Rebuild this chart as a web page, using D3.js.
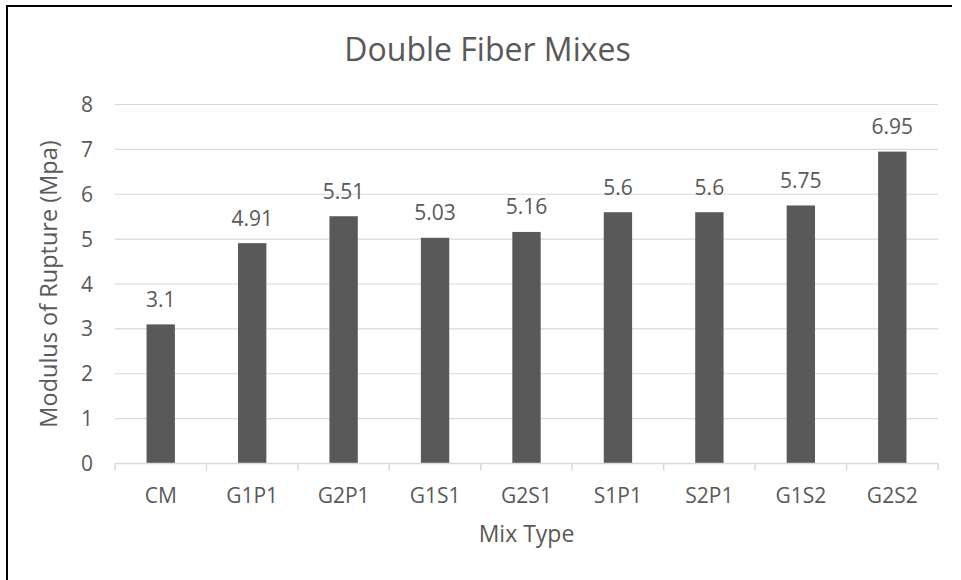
<!DOCTYPE html>
<html><head><meta charset="utf-8">
<script src="https://cdn.jsdelivr.net/npm/d3@7"></script>
<style>
body{margin:0;background:#fff;}
text{font-family:"Open Sans",sans-serif;fill:#595959;}
</style></head>
<body>
<svg id="c" width="961" height="580"></svg>
<script>
const categories = ["CM","G1P1","G2P1","G1S1","G2S1","S1P1","S2P1","G1S2","G2S2"];
const values = [3.1,4.91,5.51,5.03,5.16,5.6,5.6,5.75,6.95];
const valueLabels = ["3.1","4.91","5.51","5.03","5.16","5.6","5.6","5.75","6.95"];
const yTicks = [0,1,2,3,4,5,6,7,8];
const chartTitle = "Double Fiber Mixes";
const xTitle = "Mix Type";
const yTitle = "Modulus of Rupture (Mpa)";

(function(){
const svg = d3.select("#c");
const pl = 115, pr = 938, pt = 104.5, pb = 463.5;

// frame (top and left edges only visible)
svg.append("line").attr("x1",6).attr("x2",952).attr("y1",6).attr("y2",6).attr("stroke","#000").attr("stroke-width",2);
svg.append("line").attr("x1",7).attr("x2",7).attr("y1",5).attr("y2",580).attr("stroke","#000").attr("stroke-width",2);

const x = d3.scaleBand().domain(categories).range([pl,pr]).paddingInner(0.69).paddingOuter(0.345);
const xb = d3.scaleBand().domain(categories).range([pl,pr]);
const y = d3.scaleLinear().domain([0,8]).range([pb,pt]);

// gridlines
svg.append("g").selectAll("line").data(yTicks.filter(d=>d>0)).join("line")
  .attr("x1",pl).attr("x2",pr).attr("y1",d=>y(d)).attr("y2",d=>y(d))
  .attr("stroke","#d9d9d9").attr("stroke-width",1.2);

// y tick labels
svg.append("g").selectAll("text").data(yTicks).join("text")
  .attr("x",93).attr("y",d=>y(d)).attr("dy","0.36em").attr("text-anchor","end")
  .attr("font-size",21).text(d=>d);

// bars
svg.append("g").selectAll("rect").data(values).join("rect")
  .attr("x",(d,i)=>x(categories[i])).attr("width",x.bandwidth())
  .attr("y",d=>y(d)).attr("height",d=>pb-y(d)).attr("fill","#595959");

// x axis line + ticks
svg.append("line").attr("x1",pl).attr("x2",pr).attr("y1",pb).attr("y2",pb).attr("stroke","#d9d9d9").attr("stroke-width",1.5);
const tickPos = categories.map(c=>xb(c)).concat([pr]);
svg.append("g").selectAll("line").data(tickPos).join("line")
  .attr("x1",d=>d).attr("x2",d=>d).attr("y1",pb).attr("y2",pb+7)
  .attr("stroke","#d9d9d9").attr("stroke-width",1.5);

// category labels
svg.append("g").selectAll("text").data(categories).join("text")
  .attr("x",d=>xb(d)+xb.bandwidth()/2).attr("y",503).attr("text-anchor","middle")
  .attr("font-size",21).text(d=>d);

// value labels
svg.append("g").selectAll("text").data(values).join("text")
  .attr("x",(d,i)=>xb(categories[i])+xb.bandwidth()/2).attr("y",d=>y(d)-17.5)
  .attr("text-anchor","middle").attr("font-size",21).text((d,i)=>valueLabels[i]);

// titles
svg.append("text").attr("x",487.5).attr("y",61).attr("text-anchor","middle")
  .attr("font-size",32).text(chartTitle);
svg.append("text").attr("x",(pl+pr)/2).attr("y",542).attr("text-anchor","middle")
  .attr("font-size",23).text(xTitle);
svg.append("text").attr("transform",`translate(57,${(pt+pb)/2}) rotate(-90)`)
  .attr("text-anchor","middle").attr("font-size",23.5).text(yTitle);
})();
</script>
</body></html>
